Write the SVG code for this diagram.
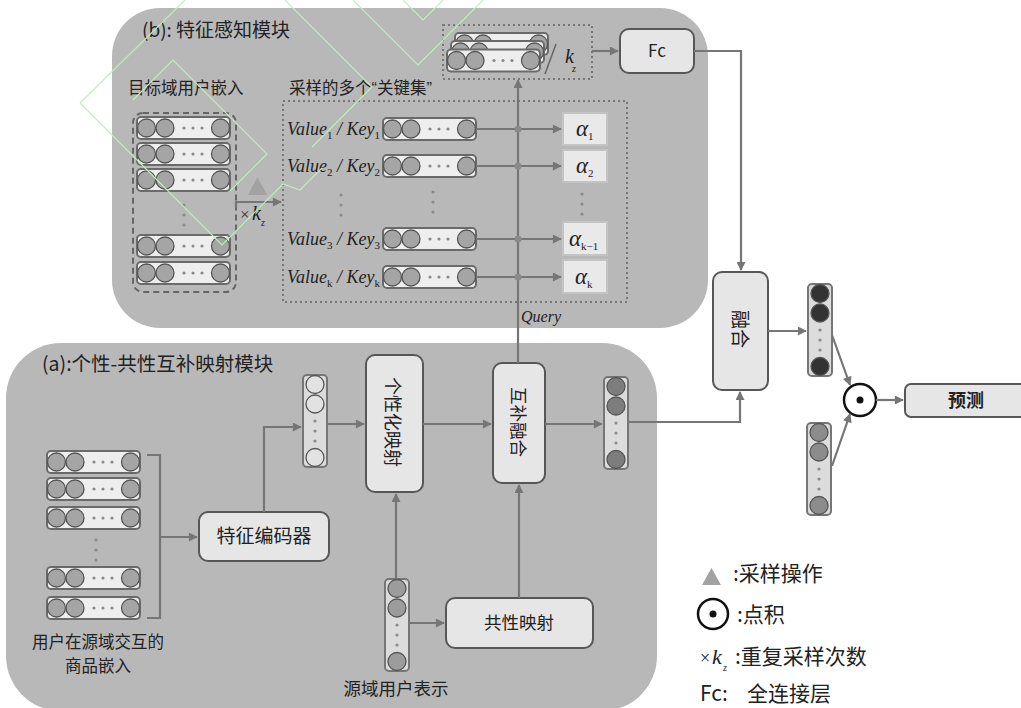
<svg xmlns="http://www.w3.org/2000/svg" xmlns:xlink="http://www.w3.org/1999/xlink" width="1021" height="708" viewBox="0 0 1021 708">
<style>
.panel{fill:#b8b8b8}
.box{fill:#e6e6e6;stroke:#575757;stroke-width:2}
.er{fill:#eeeeee;stroke:#6a6a6a;stroke-width:2}
.vr{fill:#dcdcdc;stroke:#767676;stroke-width:2}
.cc{stroke:#555;stroke-width:1.3}
.dot{fill:#8a8a8a}
.conn{fill:none;stroke:#767676;stroke-width:2.2}
.arr{marker-end:url(#ah)}
.cn{font-family:"Noto Sans CJK SC","Noto Sans",sans-serif;fill:#222}
.sr{font-family:"Liberation Serif",serif;font-style:italic;fill:#222}
.sub{font-size:11px;font-style:normal}
.alpha{fill:#e9e9e9;stroke:#c4c4c4;stroke-width:2}
.wm{fill:none;stroke:#bfeebf;stroke-width:1.1}
</style>
<defs>
<marker id="ah" viewBox="0 0 10 10" refX="9" refY="5" markerWidth="11" markerHeight="9" markerUnits="userSpaceOnUse" orient="auto">
<path d="M0,0 L10,5 L0,10 z" fill="#767676"/>
</marker>
<g id="row">
<rect class="er" x="0" y="-11" width="93" height="22" rx="4"/>
<circle class="cc" cx="9.5" cy="0" r="9" fill="#a5a5a5"/>
<circle class="cc" cx="28" cy="0" r="9" fill="#a5a5a5"/>
<circle class="dot" cx="47" cy="0" r="1.6"/>
<circle class="dot" cx="56" cy="0" r="1.6"/>
<circle class="dot" cx="65" cy="0" r="1.6"/>
<circle class="cc" cx="83.5" cy="0" r="9" fill="#a5a5a5"/>
</g>
<g id="col">
<rect class="vr" x="0" y="0" width="24" height="92" rx="4"/>
<circle class="cc" cx="12" cy="9.5" r="9"/>
<circle class="cc" cx="12" cy="29" r="9"/>
<circle class="dot" cx="12" cy="46" r="1.6"/>
<circle class="dot" cx="12" cy="56" r="1.6"/>
<circle class="dot" cx="12" cy="66" r="1.6"/>
<circle class="cc" cx="12" cy="82.5" r="9"/>
</g>
</defs>

<rect width="1021" height="708" fill="#ffffff"/>

<!-- panels -->
<rect id="panel-b" class="panel" x="112" y="8" width="596" height="320" rx="48"/>
<rect id="panel-a" class="panel" x="6" y="343" width="651" height="368" rx="55"/>

<!-- panel titles -->
<text class="cn" x="142" y="37" font-size="19">(b): 特征感知模块</text>
<text class="cn" x="42" y="371" font-size="19.5">(a):个性-共性互补映射模块</text>

<!-- target domain user embedding -->
<g id="target-emb">
<text class="cn" x="128" y="94" font-size="16.5">目标域用户嵌入</text>
<rect x="133" y="113" width="103" height="179" rx="10" fill="none" stroke="#666" stroke-width="2" stroke-dasharray="6 4"/>
<use xlink:href="#row" x="137" y="128"/>
<use xlink:href="#row" x="137" y="154"/>
<use xlink:href="#row" x="137" y="180"/>
<circle class="dot" cx="184" cy="205" r="1.6"/>
<circle class="dot" cx="184" cy="215" r="1.6"/>
<circle class="dot" cx="184" cy="225" r="1.6"/>
<use xlink:href="#row" x="137" y="246"/>
<use xlink:href="#row" x="137" y="273"/>
</g>

<g id="sampling">
<polygon points="248,195 257.5,177 267,195" fill="#a2a2a2"/>
<text x="240" y="220" font-family="Liberation Serif,serif" font-size="17" fill="#333">×</text>
<text class="sr" x="252" y="220" font-size="20">k</text>
<text class="sr" x="261" y="226" font-size="10">z</text>
</g>

<!-- key sets -->
<g id="key-sets">
<text class="cn" x="289" y="94" font-size="16.5">采样的多个<tspan font-family="Liberation Sans,sans-serif">“</tspan>关键集<tspan font-family="Liberation Sans,sans-serif">”</tspan></text>
<rect x="283" y="101" width="344" height="201" fill="none" stroke="#777" stroke-width="2" stroke-dasharray="2 3"/>
<text class="sr" x="287" y="135" font-size="18">Value<tspan class="sub" dy="4">1</tspan><tspan dy="-4"> / Key</tspan><tspan class="sub" dy="4">1</tspan></text>
<use xlink:href="#row" x="383" y="129"/>
<text class="sr" x="287" y="172" font-size="18">Value<tspan class="sub" dy="4">2</tspan><tspan dy="-4"> / Key</tspan><tspan class="sub" dy="4">2</tspan></text>
<use xlink:href="#row" x="383" y="166"/>
<circle class="dot" cx="341" cy="195" r="1.6"/>
<circle class="dot" cx="341" cy="205" r="1.6"/>
<circle class="dot" cx="341" cy="215" r="1.6"/>
<circle class="dot" cx="433" cy="192" r="1.6"/>
<circle class="dot" cx="433" cy="202" r="1.6"/>
<circle class="dot" cx="433" cy="212" r="1.6"/>
<text class="sr" x="287" y="245" font-size="18">Value<tspan class="sub" dy="4">3</tspan><tspan dy="-4"> / Key</tspan><tspan class="sub" dy="4">3</tspan></text>
<use xlink:href="#row" x="383" y="239"/>
<text class="sr" x="287" y="283" font-size="18">Value<tspan class="sub" dy="4">k</tspan><tspan dy="-4"> / Key</tspan><tspan class="sub" dy="4">k</tspan></text>
<use xlink:href="#row" x="383" y="277"/>
</g>

<!-- alpha boxes -->
<g id="alpha">
<rect class="alpha" x="563" y="113" width="44" height="32"/>
<text class="sr" x="576" y="136" font-size="23">α<tspan class="sub" dy="4" font-size="12">1</tspan></text>
<rect class="alpha" x="563" y="150" width="44" height="32"/>
<text class="sr" x="576" y="173" font-size="23">α<tspan class="sub" dy="4" font-size="12">2</tspan></text>
<circle class="dot" cx="582" cy="194" r="1.6"/>
<circle class="dot" cx="582" cy="204" r="1.6"/>
<circle class="dot" cx="582" cy="214" r="1.6"/>
<rect class="alpha" x="563" y="222" width="44" height="33"/>
<text class="sr" x="569" y="246" font-size="23">α<tspan class="sub" dy="4" font-size="12">k−1</tspan></text>
<rect class="alpha" x="563" y="260" width="44" height="33"/>
<text class="sr" x="575" y="284" font-size="23">α<tspan class="sub" dy="4" font-size="12">k</tspan></text>
</g>

<!-- k_z stacked set -->
<g id="kz-set">
<rect x="443" y="25" width="149" height="54" fill="none" stroke="#777" stroke-width="2" stroke-dasharray="2 3"/>
<use xlink:href="#row" x="455" y="44"/>
<use xlink:href="#row" x="451" y="52"/>
<use xlink:href="#row" x="447" y="60.5"/>
<path d="M545,74 L556,44" stroke="#666" stroke-width="1.5" fill="none"/>
<text class="sr" x="565" y="63" font-size="20">k</text>
<text class="sr" x="572" y="72" font-size="10">z</text>
</g>

<!-- Fc -->
<g id="fc">
<rect class="box" x="620" y="29" width="74" height="44" rx="9"/>
<text class="cn" x="657" y="57" font-size="17" text-anchor="middle">Fc</text>
</g>

<!-- fusion -->
<g id="fusion">
<rect class="box" x="713" y="272" width="55" height="118" rx="9"/>
<text class="cn" font-size="19" text-anchor="middle" dominant-baseline="central" transform="translate(741,329) rotate(90)">融合</text>
</g>

<g id="vec-dark"><use xlink:href="#col" x="808" y="284" fill="#333333"/></g>
<g id="vec-gray"><use xlink:href="#col" x="807" y="423" fill="#8c8c8c"/></g>

<g id="dot-product">
<circle cx="860" cy="400" r="16" fill="#ffffff" stroke="#111" stroke-width="2.5"/>
<circle cx="860" cy="400" r="3.5" fill="#111"/>
</g>

<g id="predict">
<rect class="box" x="905" y="384" width="125" height="33" rx="6"/>
<text class="cn" x="966" y="407" font-size="18" font-weight="bold" text-anchor="middle">预测</text>
</g>

<!-- panel a nodes -->
<g id="item-emb">
<use xlink:href="#row" x="47" y="462"/>
<use xlink:href="#row" x="47" y="489"/>
<use xlink:href="#row" x="47" y="518"/>
<circle class="dot" cx="96" cy="540" r="1.6"/>
<circle class="dot" cx="96" cy="550" r="1.6"/>
<circle class="dot" cx="96" cy="560" r="1.6"/>
<use xlink:href="#row" x="47" y="578"/>
<use xlink:href="#row" x="47" y="608"/>
<text class="cn" x="98" y="648" font-size="16.5" text-anchor="middle">用户在源域交互的</text>
<text class="cn" x="98" y="672" font-size="16.5" text-anchor="middle">商品嵌入</text>
</g>

<g id="encoder">
<rect class="box" x="199" y="512" width="130" height="49" rx="9"/>
<text class="cn" x="264" y="543" font-size="19" text-anchor="middle">特征编码器</text>
</g>

<g id="vec-enc"><use xlink:href="#col" x="303" y="375" fill="#e2e2e2"/></g>

<g id="personal-map">
<rect class="box" x="366" y="355" width="57" height="137" rx="9"/>
<text class="cn" font-size="18" text-anchor="middle" dominant-baseline="central" transform="translate(394,422) rotate(90)">个性化映射</text>
</g>

<g id="comp-fusion">
<rect class="box" x="493" y="363" width="52" height="120" rx="9"/>
<text class="cn" font-size="17.5" text-anchor="middle" dominant-baseline="central" transform="translate(519,422) rotate(90)">互补融合</text>
</g>

<g id="vec-out"><use xlink:href="#col" x="604" y="377" fill="#7d7d7d"/></g>

<g id="vec-src">
<use xlink:href="#col" x="385" y="579" fill="#9c9c9c"/>
<text class="cn" x="396" y="695" font-size="17.5" text-anchor="middle">源域用户表示</text>
</g>

<g id="common-map">
<rect class="box" x="446" y="598" width="147" height="50" rx="9"/>
<text class="cn" x="519" y="629" font-size="17.5" text-anchor="middle">共性映射</text>
</g>

<!-- connectors -->
<g id="connectors">
<path class="conn arr" d="M236,208 L236,202 L281,202"/>
<path class="conn arr" d="M476,129 L561,129"/>
<path class="conn arr" d="M476,166 L561,166"/>
<path class="conn arr" d="M476,239 L561,239"/>
<path class="conn arr" d="M476,277 L561,277"/>
<path class="conn arr" d="M518,363 L518,80"/>
<circle cx="518" cy="129" r="3.5" fill="#8a8a8a"/>
<circle cx="518" cy="166" r="3.5" fill="#8a8a8a"/>
<circle cx="518" cy="239" r="3.5" fill="#8a8a8a"/>
<circle cx="518" cy="277" r="3.5" fill="#8a8a8a"/>
<text class="sr" x="521" y="322" font-size="16">Query</text>
<path class="conn arr" d="M592,51 L618,51"/>
<path class="conn arr" d="M694,51 L741,51 L741,270"/>
<path class="conn" d="M147,455 L160,455 L160,618 L147,618"/>
<path class="conn arr" d="M160,537 L197,537"/>
<path class="conn arr" d="M264,512 L264,427 L301,427"/>
<path class="conn arr" d="M327,424 L364,424"/>
<path class="conn arr" d="M423,424 L491,424"/>
<path class="conn arr" d="M545,424 L602,424"/>
<path class="conn arr" d="M628,422 L740,422 L740,392"/>
<path class="conn arr" d="M396,579 L396,494"/>
<path class="conn arr" d="M408,623 L444,623"/>
<path class="conn arr" d="M519,598 L519,485"/>
<path class="conn arr" d="M768,331 L806,331"/>
<path class="conn arr" d="M832,335 L850,385"/>
<path class="conn arr" d="M832,466 L850,414"/>
<path class="conn arr" d="M876,400 L903,400"/>
</g>

<!-- legend -->
<g id="legend">
<polygon points="702,585 711.5,568 721,585" fill="#a2a2a2"/>
<text class="cn" x="733" y="581" font-size="21">:采样操作</text>
<circle cx="713" cy="614" r="15" fill="#fff" stroke="#111" stroke-width="2.5"/>
<circle cx="713" cy="614" r="3.5" fill="#111"/>
<text class="cn" x="737" y="622" font-size="21">:点积</text>
<text x="700" y="664" font-family="Liberation Serif,serif" font-size="18" fill="#222">×</text>
<text class="sr" x="712" y="664" font-size="22">k</text>
<text class="sr" x="723" y="671" font-size="10">z</text>
<text class="cn" x="735" y="664" font-size="21">:重复采样次数</text>
<text class="cn" x="700" y="701" font-size="21">Fc:<tspan x="747">全连接层</tspan></text>
</g>

<!-- watermark traces -->
<g id="watermark">
<path class="wm" d="M80,103 L185,0"/>
<path class="wm" d="M80,103 L222,245 L283,184 L300,190 L322,168"/>
<path class="wm" d="M133,100 L173,60 L267,154 L230,191"/>
<path class="wm" d="M353,0 L418,65 L483,0"/>
<path class="wm" d="M403,0 L423,20 L443,0"/>
<path class="wm" d="M285,0 L372,87 L312,147"/>
</g>
</svg>
